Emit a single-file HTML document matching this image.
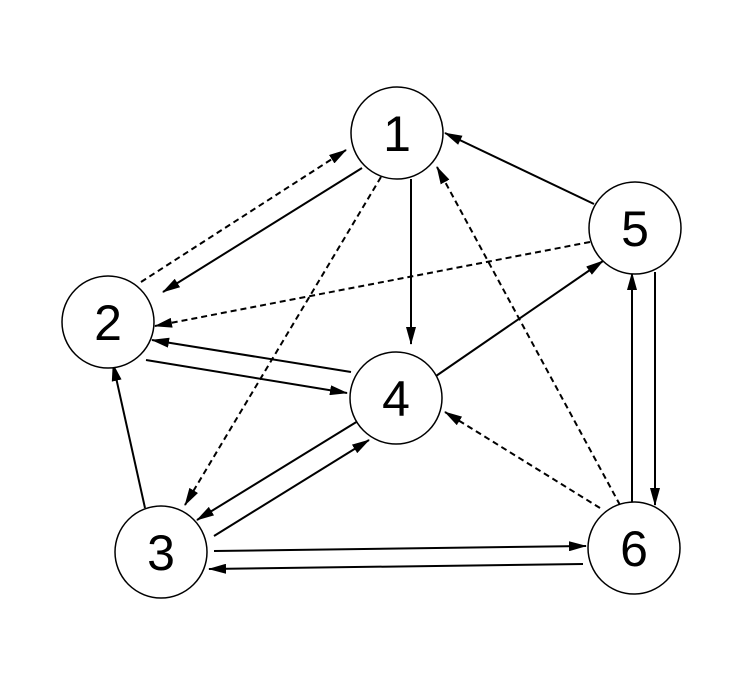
<!DOCTYPE html>
<html><head><style>body{margin:0;background:#fff}</style></head><body>
<svg width="741" height="684" xmlns="http://www.w3.org/2000/svg">
<defs><marker id="a" markerWidth="18" markerHeight="10" refX="17" refY="5" orient="auto" markerUnits="userSpaceOnUse"><path d="M0,0 L18,5 L0,10 Z" fill="#000"/></marker></defs>
<g stroke="#000" stroke-width="2" fill="none" marker-end="url(#a)">
<line x1="362" y1="168" x2="163" y2="292"/>
<line x1="141" y1="282" x2="346" y2="150" stroke-dasharray="6,4"/>
<line x1="594" y1="204" x2="445" y2="133"/>
<line x1="411" y1="179" x2="411" y2="344"/>
<line x1="381" y1="177" x2="185" y2="505" stroke-dasharray="6,4"/>
<line x1="590" y1="242" x2="155" y2="326" stroke-dasharray="6,4"/>
<line x1="351" y1="372" x2="152" y2="340"/>
<line x1="146" y1="360" x2="347" y2="393"/>
<line x1="436" y1="376" x2="603" y2="261"/>
<line x1="145" y1="508" x2="113" y2="364"/>
<line x1="358" y1="421" x2="197" y2="520"/>
<line x1="214" y1="536" x2="369" y2="440"/>
<line x1="214" y1="551" x2="586" y2="546"/>
<line x1="583" y1="564" x2="209" y2="569"/>
<line x1="632" y1="505" x2="632" y2="273"/>
<line x1="655" y1="272" x2="655" y2="505"/>
<line x1="620" y1="505" x2="437" y2="167" stroke-dasharray="6,4"/>
<line x1="600" y1="508" x2="445" y2="412" stroke-dasharray="6,4"/>
</g>
<g stroke="#000" stroke-width="1.5" fill="#fff">
<circle cx="397" cy="133" r="46"/>
<circle cx="108" cy="322" r="46"/>
<circle cx="161" cy="552" r="46"/>
<circle cx="396" cy="398" r="46"/>
<circle cx="635" cy="228" r="46"/>
<circle cx="634" cy="548" r="46"/>
</g>
<g font-family="Liberation Sans, sans-serif" font-size="50" text-anchor="middle" fill="#000">
<text x="397" y="151">1</text>
<text x="108" y="340">2</text>
<text x="161" y="570">3</text>
<text x="396" y="416">4</text>
<text x="635" y="246">5</text>
<text x="634" y="566">6</text>
</g>
</svg>
</body></html>
